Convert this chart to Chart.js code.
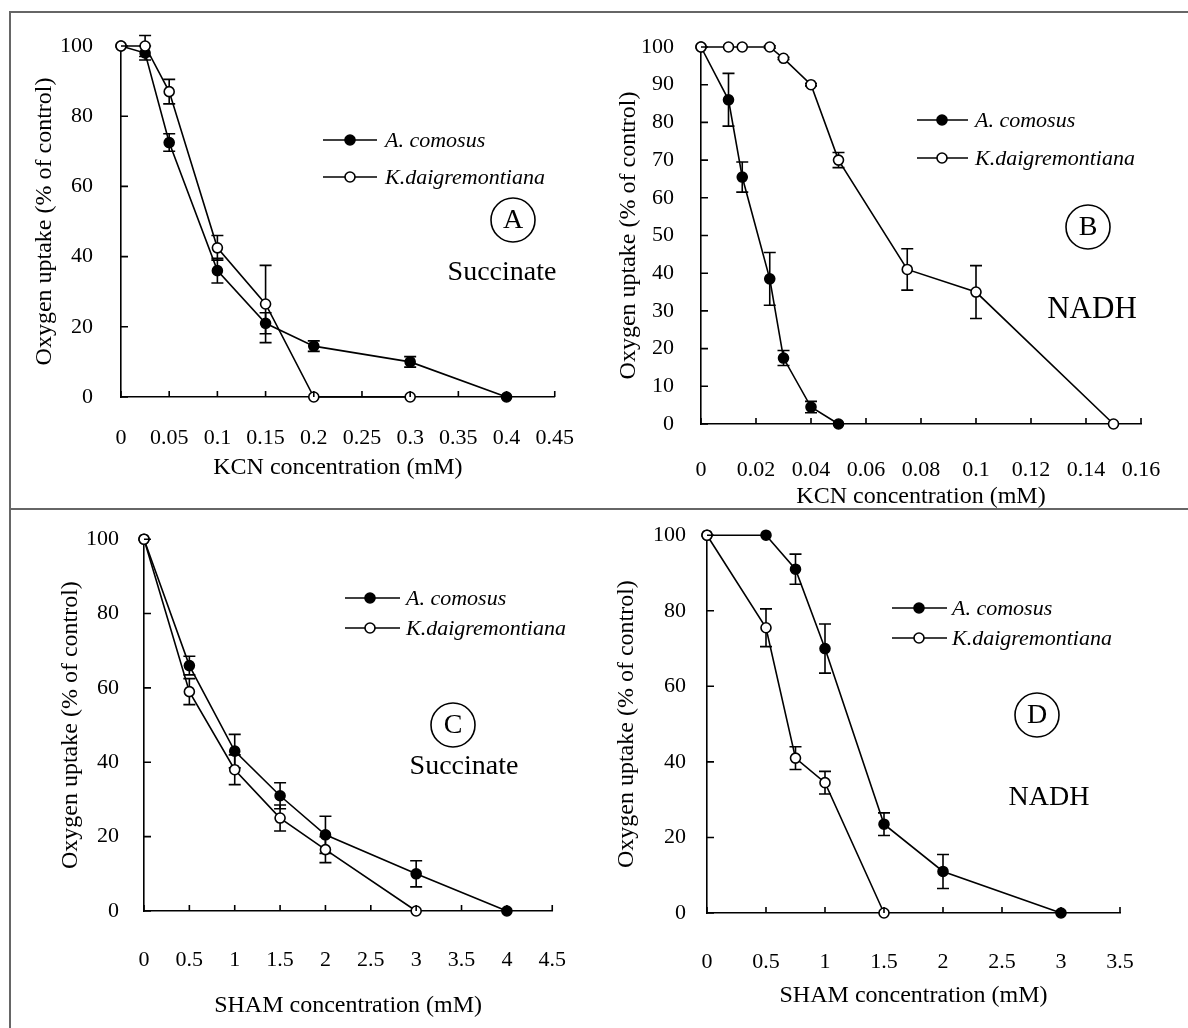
<!DOCTYPE html>
<html>
<head>
<meta charset="utf-8">
<script src="https://cdn.jsdelivr.net/npm/chart.js@4.4.1/dist/chart.umd.min.js"></script>
<style>
body { margin: 0; background: #fff; }
#wrap { position: relative; width: 1188px; height: 1028px; overflow: hidden; }
canvas { position: absolute; }
.ln { position: absolute; background: #666; }
</style>
</head>
<body>
<div id="wrap">
  <div class="ln" style="left:9px;top:11px;width:1179px;height:1.5px"></div>
  <div class="ln" style="left:9px;top:11px;width:1.5px;height:1017px"></div>
  <div class="ln" style="left:9px;top:508px;width:1179px;height:1.5px"></div>
  <canvas id="cA" width="585" height="496" style="left:9px;top:12px"></canvas>
  <canvas id="cB" width="594" height="516" style="left:594px;top:12px"></canvas>
  <canvas id="cC" width="585" height="519" style="left:9px;top:509px"></canvas>
  <canvas id="cD" width="594" height="519" style="left:594px;top:509px"></canvas>
</div>
<script>
// 凡例ラベル
const seriesNames = ['A. comosus', 'K.daigremontiana']
const yTitle = 'Oxygen uptake (% of control)'

// パネルA (KCN, Succinate)
const aComosusX = [0, 0.025, 0.05, 0.1, 0.15, 0.2, 0.3, 0.4]
const aComosusY = [100, 98, 72.5, 36, 21, 14.5, 10, 0]
const aComosusErr = [0, 2, 2.5, 3.5, 3, 1.5, 1.5, 0]
const aKdaigX = [0, 0.025, 0.05, 0.1, 0.15, 0.2, 0.3]
const aKdaigY = [100, 100, 87, 42.5, 26.5, 0, 0]
const aKdaigErr = [0, 3, 3.5, 3.5, 11, 0, 0]
const aXTicks = [0, 0.05, 0.1, 0.15, 0.2, 0.25, 0.3, 0.35, 0.4, 0.45]
const aXLabels = ['0', '0.05', '0.1', '0.15', '0.2', '0.25', '0.3', '0.35', '0.4', '0.45']

// パネルB (KCN, NADH)
const bComosusX = [0, 0.01, 0.015, 0.025, 0.03, 0.04, 0.05]
const bComosusY = [100, 86, 65.5, 38.5, 17.5, 4.5, 0]
const bComosusErr = [0, 7, 4, 7, 2, 1.5, 0]
const bKdaigX = [0, 0.01, 0.015, 0.025, 0.03, 0.04, 0.05, 0.075, 0.1, 0.15]
const bKdaigY = [100, 100, 100, 100, 97, 90, 70, 41, 35, 0]
const bKdaigErr = [0, 0, 0, 0.3, 0.3, 0.3, 2, 5.5, 7, 0]
const bXTicks = [0, 0.02, 0.04, 0.06, 0.08, 0.1, 0.12, 0.14, 0.16]
const bXLabels = ['0', '0.02', '0.04', '0.06', '0.08', '0.1', '0.12', '0.14', '0.16']

// パネルC (SHAM, Succinate)
const cComosusX = [0, 0.5, 1, 1.5, 2, 3, 4]
const cComosusY = [100, 66, 43, 31, 20.5, 10, 0]
const cComosusErr = [0, 2.5, 4.5, 3.5, 5, 3.5, 0]
const cKdaigX = [0, 0.5, 1, 1.5, 2, 3]
const cKdaigY = [100, 59, 38, 25, 16.5, 0]
const cKdaigErr = [0, 3.5, 4, 3.5, 3.5, 0]
const cXTicks = [0, 0.5, 1, 1.5, 2, 2.5, 3, 3.5, 4, 4.5]
const cXLabels = ['0', '0.5', '1', '1.5', '2', '2.5', '3', '3.5', '4', '4.5']

// パネルD (SHAM, NADH)
const dComosusX = [0, 0.5, 0.75, 1, 1.5, 2, 3]
const dComosusY = [100, 100, 91, 70, 23.5, 11, 0]
const dComosusErr = [0, 0, 4, 6.5, 3, 4.5, 0]
const dKdaigX = [0, 0.5, 0.75, 1, 1.5]
const dKdaigY = [100, 75.5, 41, 34.5, 0]
const dKdaigErr = [0, 5, 3, 3, 0]
const dXTicks = [0, 0.5, 1, 1.5, 2, 2.5, 3, 3.5]
const dXLabels = ['0', '0.5', '1', '1.5', '2', '2.5', '3', '3.5']

// y軸目盛
const yTicks20 = [0, 20, 40, 60, 80, 100]
const yTicks10 = [0, 10, 20, 30, 40, 50, 60, 70, 80, 90, 100]

const FONT = 'Liberation Serif'
Chart.defaults.font.family = FONT
Chart.defaults.color = '#000'

// 点データ作成
function points(xs, ys) {
    return xs.map((x, i) => ({ x: x, y: ys[i] }))
}

// エラーバー・内向き目盛・凡例・注記
const extraPlugin = {
    id: 'extra',
    beforeDatasetsDraw(chart) {
        const ctx = chart.ctx
        const xs = chart.scales.x
        const ys = chart.scales.y
        ctx.save()
        ctx.strokeStyle = '#000'
        ctx.lineWidth = 1.6
        chart.data.datasets.forEach(ds => {
            ds.data.forEach((p, i) => {
                const e = ds.errors[i]
                if (!e) return
                const px = xs.getPixelForValue(p.x)
                const top = ys.getPixelForValue(p.y + e)
                const bot = ys.getPixelForValue(p.y - e)
                ctx.beginPath()
                ctx.moveTo(px, top); ctx.lineTo(px, bot)
                ctx.moveTo(px - 6, top); ctx.lineTo(px + 6, top)
                ctx.moveTo(px - 6, bot); ctx.lineTo(px + 6, bot)
                ctx.stroke()
            })
        })
        ctx.restore()
    },
    afterDraw(chart) {
        const ctx = chart.ctx
        const xs = chart.scales.x
        const ys = chart.scales.y
        const cfg = chart.options.plugins.extra
        ctx.save()
        ctx.strokeStyle = '#000'
        ctx.lineWidth = 1.6
        // 内向き目盛
        ctx.beginPath()
        xs.ticks.forEach(t => {
            const px = xs.getPixelForValue(t.value)
            ctx.moveTo(px, ys.bottom); ctx.lineTo(px, ys.bottom - 6)
        })
        ys.ticks.forEach(t => {
            const py = ys.getPixelForValue(t.value)
            ctx.moveTo(xs.left, py); ctx.lineTo(xs.left + 7, py)
        })
        ctx.stroke()

        // 凡例
        const lg = cfg.legend
        chart.data.datasets.slice().reverse().forEach((ds, k) => {
            const y = lg.rows[k]
            ctx.beginPath()
            ctx.moveTo(lg.x1, y); ctx.lineTo(lg.x2, y)
            ctx.stroke()
            ctx.beginPath()
            ctx.arc(lg.mx, y, 5, 0, Math.PI * 2)
            ctx.fillStyle = ds.pointBackgroundColor
            ctx.fill()
            ctx.stroke()
            ctx.fillStyle = '#000'
            ctx.font = 'italic 22px "' + FONT + '"'
            ctx.textBaseline = 'middle'
            ctx.textAlign = 'left'
            ctx.fillText(ds.label, lg.tx, y + 1)
        })

        // 丸囲み文字と基質名
        const an = cfg.note
        ctx.beginPath()
        ctx.arc(an.cx, an.cy, 22, 0, Math.PI * 2)
        ctx.stroke()
        ctx.fillStyle = '#000'
        ctx.textAlign = 'center'
        ctx.textBaseline = 'middle'
        ctx.font = '28px "' + FONT + '"'
        ctx.fillText(an.letter, an.cx, an.cy + 1)
        ctx.font = an.size + 'px "' + FONT + '"'
        ctx.fillText(an.text, an.tx, an.ty)
        ctx.restore()
    }
}

// パネル生成
function setPanel(p) {
    const el = document.getElementById(p.id)
    const W = el.width, H = el.height
    const datasets = [
        {
            label: seriesNames[1],
            data: points(p.kx, p.ky),
            errors: p.ke,
            pointBackgroundColor: '#fff'
        },
        {
            label: seriesNames[0],
            data: points(p.cx, p.cy),
            errors: p.ce,
            pointBackgroundColor: '#000'
        }
    ].map(ds => Object.assign(ds, {
        showLine: true,
        clip: false,
        borderColor: '#000',
        borderWidth: 1.6,
        pointRadius: 5,
        pointBorderColor: '#000',
        pointBorderWidth: 1.6
    }))

    new Chart(el.getContext('2d'), {
        type: 'scatter',
        data: { datasets: datasets },
        options: {
            responsive: false,
            animation: false,
            events: [],
            layout: {
                padding: { left: 0, top: p.area[2] - p.top, right: p.left + W - p.area[1], bottom: 0 }
            },
            plugins: {
                legend: { display: false },
                tooltip: { enabled: false },
                extra: {
                    legend: {
                        rows: p.legend.rows.map(v => v - p.top),
                        x1: p.legend.x1 - p.left, x2: p.legend.x2 - p.left,
                        mx: p.legend.mx - p.left, tx: p.legend.tx - p.left
                    },
                    note: {
                        letter: p.note.letter, cx: p.note.cx - p.left, cy: p.note.cy - p.top,
                        text: p.note.text, tx: p.note.tx - p.left, ty: p.note.ty - p.top, size: p.note.size
                    }
                }
            },
            scales: {
                x: {
                    type: 'linear',
                    min: p.xTicks[0],
                    max: p.xTicks[p.xTicks.length - 1],
                    afterBuildTicks: s => { s.ticks = p.xTicks.map(v => ({ value: v })) },
                    afterFit: s => { s.height = p.top + H - p.area[3] },
                    grid: { display: false },
                    border: { display: true, color: '#000', width: 1.6 },
                    ticks: {
                        padding: p.xPad,
                        maxRotation: 0,
                        autoSkip: false,
                        font: { size: 22 },
                        callback: (v, i) => p.xLabels[i]
                    },
                    title: {
                        display: true,
                        text: p.xTitle,
                        font: { size: 24 },
                        padding: { top: 0, bottom: p.xTitlePad }
                    }
                },
                y: {
                    type: 'linear',
                    min: 0,
                    max: 100,
                    afterBuildTicks: s => { s.ticks = p.yTicks.map(v => ({ value: v })) },
                    afterFit: s => { s.width = p.area[0] - p.left },
                    grid: { display: false },
                    border: { display: true, color: '#000', width: 1.6 },
                    ticks: {
                        padding: p.yPad,
                        autoSkip: false,
                        font: { size: 22 },
                        callback: v => String(v)
                    },
                    title: {
                        display: true,
                        text: yTitle,
                        font: { size: 24 },
                        padding: { top: p.yTitlePad, bottom: 0 }
                    }
                }
            }
        },
        plugins: [extraPlugin]
    })
}

// area = [左, 右, 上, 下] (ページ座標)
setPanel({
    id: 'cA', left: 9, top: 12, area: [121, 566, 46, 397],
    cx: aComosusX, cy: aComosusY, ce: aComosusErr,
    kx: aKdaigX, ky: aKdaigY, ke: aKdaigErr,
    xTicks: aXTicks, xLabels: aXLabels, yTicks: yTicks20,
    xTitle: 'KCN concentration (mM)',
    xPad: 20, yPad: 20, xTitlePad: 26, yTitlePad: 21,
    legend: { rows: [140, 177], x1: 323, x2: 377, mx: 350, tx: 385 },
    note: { letter: 'A', cx: 513, cy: 220, text: 'Succinate', tx: 502, ty: 273, size: 28 }
})

setPanel({
    id: 'cB', left: 594, top: 12, area: [701, 1141, 47, 424],
    cx: bComosusX, cy: bComosusY, ce: bComosusErr,
    kx: bKdaigX, ky: bKdaigY, ke: bKdaigErr,
    xTicks: bXTicks, xLabels: bXLabels, yTicks: yTicks10,
    xTitle: 'KCN concentration (mM)',
    xPad: 25, yPad: 19, xTitlePad: 17, yTitlePad: 20,
    legend: { rows: [120, 158], x1: 917, x2: 968, mx: 942, tx: 975 },
    note: { letter: 'B', cx: 1088, cy: 227, text: 'NADH', tx: 1092, ty: 310, size: 31 }
})

setPanel({
    id: 'cC', left: 9, top: 509, area: [144, 573, 529, 911],
    cx: cComosusX, cy: cComosusY, ce: cComosusErr,
    kx: cKdaigX, ky: cKdaigY, ke: cKdaigErr,
    xTicks: cXTicks, xLabels: cXLabels, yTicks: yTicks20,
    xTitle: 'SHAM concentration (mM)',
    xPad: 28, yPad: 17, xTitlePad: 8, yTitlePad: 47,
    legend: { rows: [598, 628], x1: 345, x2: 400, mx: 370, tx: 406 },
    note: { letter: 'C', cx: 453, cy: 725, text: 'Succinate', tx: 464, ty: 767, size: 28 }
})

setPanel({
    id: 'cD', left: 594, top: 509, area: [707, 1120, 530, 913],
    cx: dComosusX, cy: dComosusY, ce: dComosusErr,
    kx: dKdaigX, ky: dKdaigY, ke: dKdaigErr,
    xTicks: dXTicks, xLabels: dXLabels, yTicks: yTicks20,
    xTitle: 'SHAM concentration (mM)',
    xPad: 28, yPad: 13, xTitlePad: 18, yTitlePad: 18,
    legend: { rows: [608, 638], x1: 892, x2: 947, mx: 919, tx: 952 },
    note: { letter: 'D', cx: 1037, cy: 715, text: 'NADH', tx: 1049, ty: 798, size: 28 }
})
</script>
</body>
</html>
